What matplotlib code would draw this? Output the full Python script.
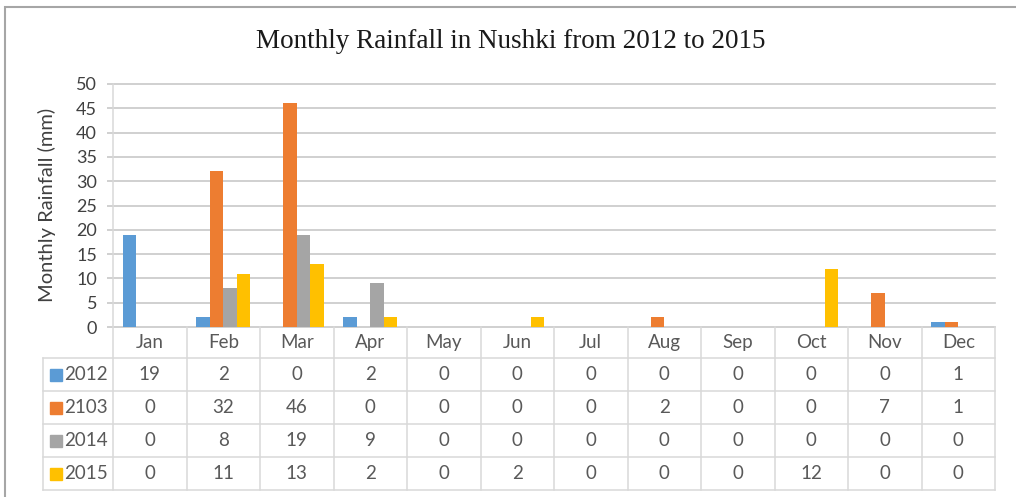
import matplotlib
matplotlib.use("Agg")
import matplotlib.pyplot as plt
import numpy as np
from matplotlib.lines import Line2D
from matplotlib.patches import Rectangle
import matplotlib.transforms as mtrans

# ---- data ----
months = ["Jan", "Feb", "Mar", "Apr", "May", "Jun", "Jul", "Aug", "Sep", "Oct", "Nov", "Dec"]
series_names = ["2012", "2103", "2014", "2015"]
r2012 = [19, 2, 0, 2, 0, 0, 0, 0, 0, 0, 0, 1]
r2103 = [0, 32, 46, 0, 0, 0, 0, 2, 0, 0, 7, 1]
r2014 = [0, 8, 19, 9, 0, 0, 0, 0, 0, 0, 0, 0]
r2015 = [0, 11, 13, 2, 0, 2, 0, 0, 0, 12, 0, 0]
series = [r2012, r2103, r2014, r2015]
colors = ["#5B9BD5", "#ED7D31", "#A5A5A5", "#FFC000"]
yticks = list(range(0, 51, 5))
title = "Monthly Rainfall in Nushki from 2012 to 2015"
ylabel = "Monthly Rainfall (mm)"

SANS = ["Lato", "DejaVu Sans"]
SERIF = ["Liberation Serif", "DejaVu Serif"]
GRID = "#C8C8C8"
TBL = "#D9D9D9"
TXT = "#595959"

W, H = 1016, 497
fig = plt.figure(figsize=(W / 100, H / 100), dpi=100)


def fx(p):
    return p / W


def fy(p):
    return 1 - p / H


ax = fig.add_axes([fx(113), fy(327), fx(995) - fx(113), fy(84) - fy(327)])

x = np.arange(len(months))
bw = 0.1837
for i, (vals, c) in enumerate(zip(series, colors)):
    ax.bar(x + (i - 1.5) * bw, vals, width=bw, color=c, zorder=3)

ax.set_xlim(-0.5, len(months) - 0.5)
ax.set_ylim(0, 50)
ax.set_yticks(yticks)
ax.set_xticks([])
ax.yaxis.grid(True, color=GRID, lw=1.2, zorder=0)
for gl in ax.get_ygridlines():
    gl.set_clip_on(False)
for s in ["top", "right", "bottom"]:
    ax.spines[s].set_visible(False)
ax.spines["left"].set_color(TBL)
ax.spines["left"].set_linewidth(1.1)
ax.tick_params(axis="y", length=4.5, width=1.2, color=GRID, pad=7,
               labelsize=13, labelcolor="#404040")
for lab in ax.get_yticklabels():
    lab.set_family(SANS)

fig.text(fx(47), fy(205), ylabel, rotation=90, ha="center", va="center",
         fontsize=14.5, color="#404040", family=SANS)
fig.text(fx(511), fy(42), title, ha="center", va="center",
         fontsize=19.5, color="#1a1a1a", family=SERIF)

# ---- data table ----
tx = mtrans.blended_transform_factory(ax.transData, fig.transFigure)
tf = fig.transFigure
row_edges = [327, 358, 391, 424, 457, 490]
lw_t = 1.1
# vertical lines of month columns
for k in range(len(months) + 1):
    fig.add_artist(Line2D([k - 0.5, k - 0.5], [fy(327), fy(490)], transform=tx,
                          color=TBL, lw=lw_t))
# label column left edge
fig.add_artist(Line2D([fx(43), fx(43)], [fy(358), fy(490)], transform=tf, color=TBL, lw=lw_t))
# horizontal lines
for yy in row_edges[1:]:
    fig.add_artist(Line2D([fx(43), fx(995)], [fy(yy), fy(yy)], transform=tf, color=TBL, lw=lw_t))

# header
hy = (row_edges[0] + row_edges[1]) / 2
for k, m in enumerate(months):
    fig.text(k, fy(hy), m, transform=tx, ha="center", va="center",
             fontsize=13.5, color=TXT, family=SANS)
# rows
for r, (name, vals, c) in enumerate(zip(series_names, series, colors)):
    cy = (row_edges[r + 1] + row_edges[r + 2]) / 2
    fig.add_artist(Rectangle((fx(50), fy(cy + 6)), fx(12), fy(cy - 6) - fy(cy + 6),
                             transform=tf, color=c))
    fig.text(fx(64), fy(cy), name, transform=tf, ha="left", va="center",
             fontsize=13.5, color=TXT, family=SANS)
    for k, v in enumerate(vals):
        fig.text(k, fy(cy), str(v), transform=tx, ha="center", va="center",
                 fontsize=13.5, color=TXT, family=SANS)

# chart border
fig.add_artist(Rectangle((fx(5), -0.2), 1.5, fy(7) + 0.2, transform=tf,
                         fill=False, edgecolor="#A6A6A6", lw=1.5))

fig.savefig("out.png", dpi=100)
